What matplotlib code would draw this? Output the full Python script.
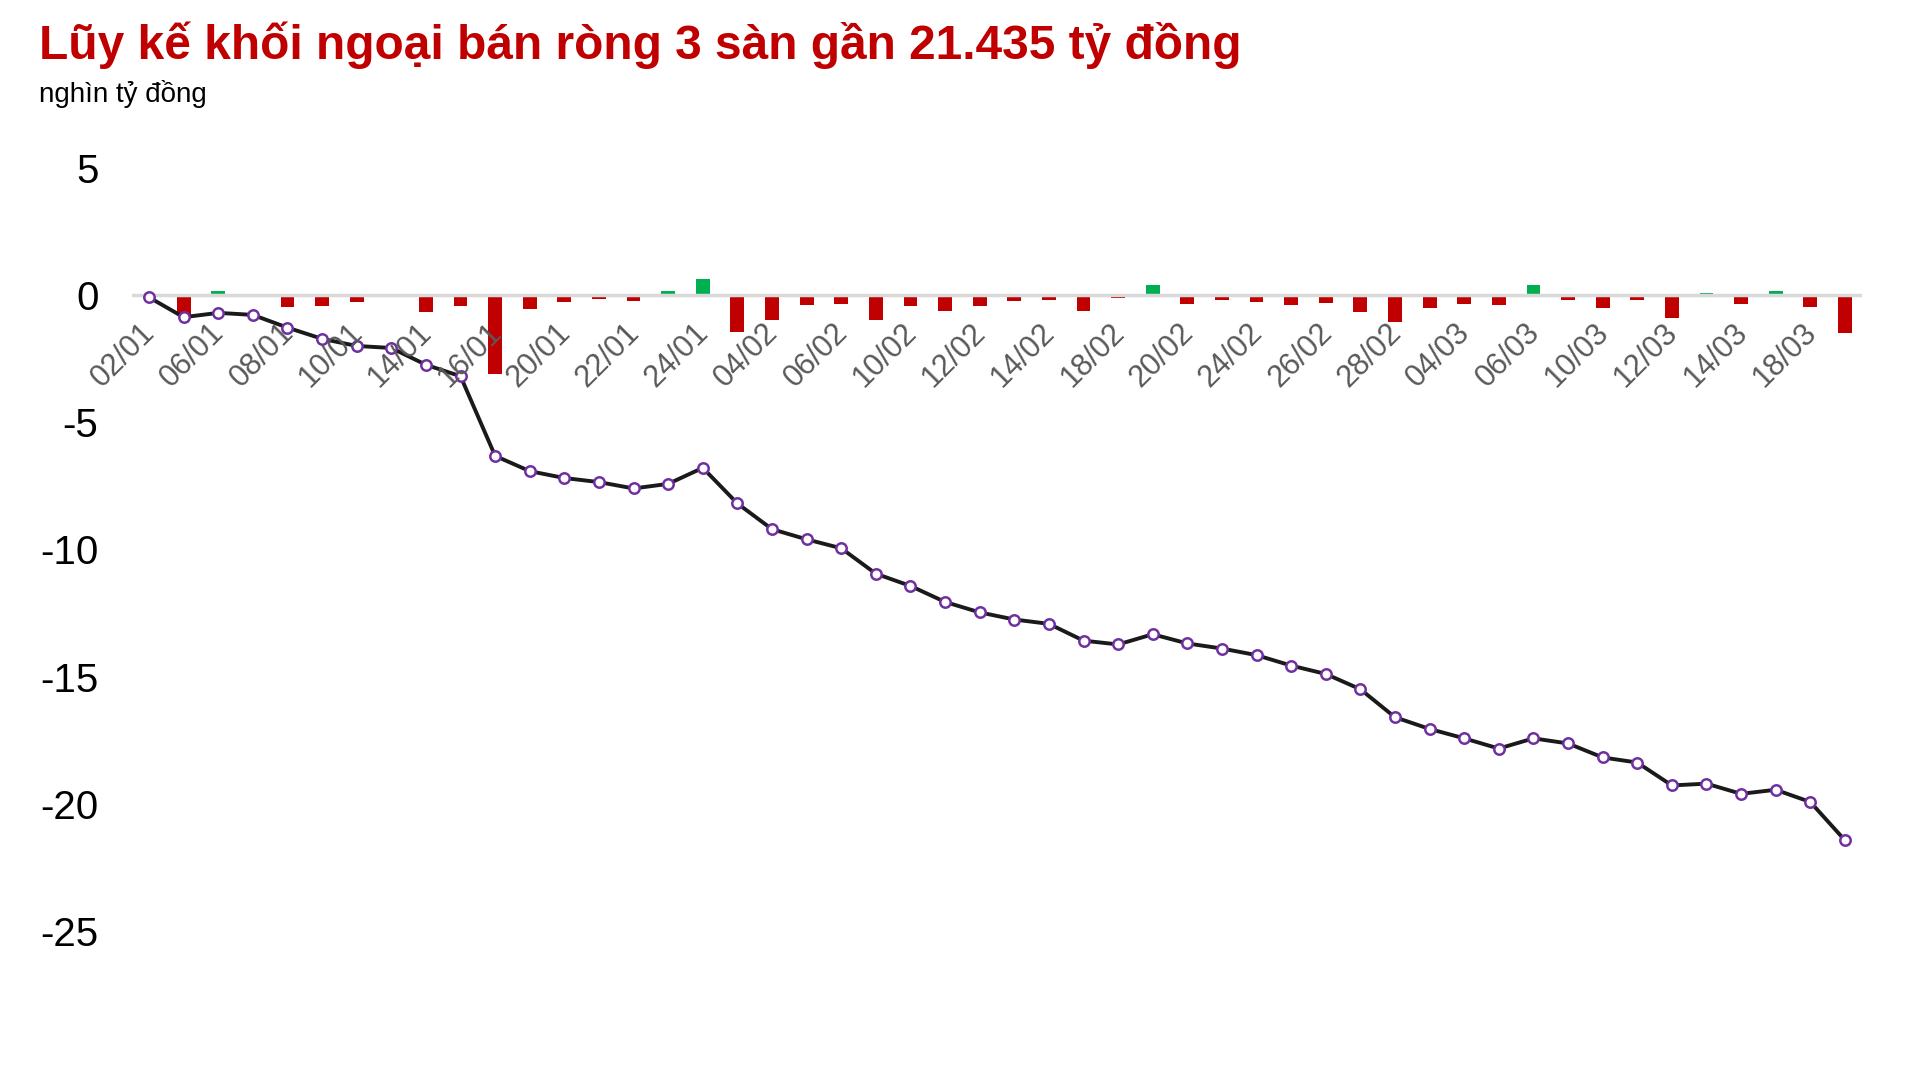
import matplotlib
matplotlib.use("Agg")
import matplotlib.pyplot as plt
import matplotlib.transforms as mtransforms

plt.rcParams['font.family'] = ['Liberation Sans', 'DejaVu Sans']

# Ngày giao dịch (02/01 - 19/03)
ngay = ['02/01', '03/01', '06/01', '07/01', '08/01', '09/01', '10/01', '13/01', '14/01', '15/01',
        '16/01', '17/01', '20/01', '21/01', '22/01', '23/01', '24/01', '03/02', '04/02', '05/02',
        '06/02', '07/02', '10/02', '11/02', '12/02', '13/02', '14/02', '17/02', '18/02', '19/02',
        '20/02', '21/02', '24/02', '25/02', '26/02', '27/02', '28/02', '03/03', '04/03', '05/03',
        '06/03', '07/03', '10/03', '11/03', '12/03', '13/03', '14/03', '17/03', '18/03', '19/03']

# Giá trị ròng từng phiên (nghìn tỷ đồng)
rong = [-0.10, -0.79, 0.13, -0.05, -0.49, -0.43, -0.29, -0.05, -0.68, -0.43,
        -3.12, -0.55, -0.28, -0.16, -0.24, 0.13, 0.62, -1.46, -1.00, -0.39,
        -0.36, -1.00, -0.45, -0.64, -0.45, -0.25, -0.21, -0.64, -0.13, 0.39,
        -0.37, -0.21, -0.29, -0.39, -0.33, -0.68, -1.08, -0.53, -0.37, -0.41,
        0.39, -0.21, -0.53, -0.21, -0.92, 0.07, -0.37, 0.14, -0.49, -1.51]

# Lũy kế (nghìn tỷ đồng)
luy_ke = [-0.10, -0.88, -0.71, -0.79, -1.29, -1.73, -2.01, -2.09, -2.75, -3.20,
          -6.33, -6.93, -7.20, -7.36, -7.61, -7.43, -6.80, -8.20, -9.21, -9.61,
          -9.96, -10.96, -11.44, -12.07, -12.48, -12.76, -12.93, -13.59, -13.74, -13.34,
          -13.70, -13.90, -14.16, -14.57, -14.90, -15.50, -16.60, -17.06, -17.43, -17.83,
          -17.43, -17.63, -18.18, -18.38, -19.28, -19.21, -19.61, -19.45, -19.93, -21.435]

y_ticks = [5, 0, -5, -10, -15, -20, -25]

fig = plt.figure(figsize=(19.23, 10.88), dpi=100)
ax = fig.add_axes([0.0685, 0.1443, 0.8999, 0.7017])

x = list(range(len(ngay)))
mau = ['#00B050' if v > 0 else '#C00000' for v in rong]
ax.bar(x, rong, width=0.4, color=mau, zorder=2)
ax.axhline(0, color='#D9D9D9', lw=2.5, zorder=3)
ax.plot(x, luy_ke, color='#1a1a1a', lw=2.8, marker='o', markersize=7.5,
        markerfacecolor='white', markeredgecolor='#7030A0', markeredgewidth=1.8, zorder=4)

ax.set_xlim(-0.5, len(ngay) - 0.5)
ax.set_ylim(-25, 5)
ax.set_yticks(y_ticks)
ax.set_yticklabels([str(t) for t in y_ticks], fontsize=29)
ax.tick_params(axis='y', length=0, pad=24)
ax.set_xticks([])
for s in ax.spines.values():
    s.set_visible(False)

# nhãn ngày nằm sát trục 0, xoay 45 độ
off = mtransforms.offset_copy(ax.transData, fig=fig, x=-9, y=-23, units='dots')
for i in range(0, len(ngay), 2):
    ax.text(i, 0, ngay[i], transform=off, rotation=45, rotation_mode='anchor',
            ha='right', va='top', fontsize=22, color='#595959', zorder=5)

fig.text(0.0205, 0.958, 'Lũy kế khối ngoại bán ròng 3 sàn gần 21.435 tỷ đồng',
         fontsize=34.5, fontweight='bold', color='#C00000', va='center')
fig.text(0.0205, 0.914, 'nghìn tỷ đồng', fontsize=20, color='black', va='center')

fig.savefig('out.png', dpi=100)
